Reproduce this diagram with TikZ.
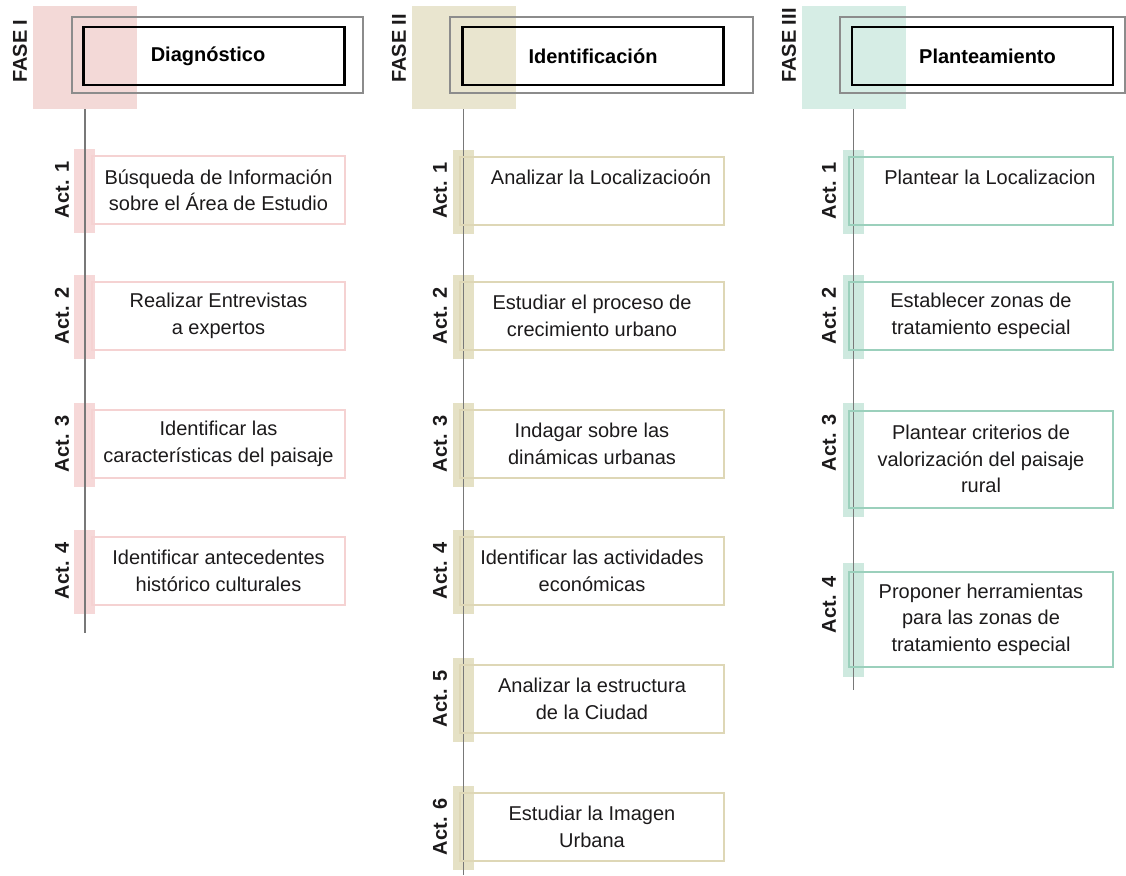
\documentclass[tikz,border=0pt]{standalone}
\usepackage{fontspec}
\setmainfont{Liberation Sans}
\begin{document}
\begin{tikzpicture}[x=1pt, y=-1pt,
	every node/.style={font=\fontsize{20}{26.5}\selectfont, text={rgb,255:red,28;green,26;blue,27}},
	fasesq/.style={minimum width=104, minimum height=103, inner sep=0},
	pinksq/.style={fasesq, fill={rgb,255:red,243;green,217;blue,215}},
	beigesq/.style={fasesq, fill={rgb,255:red,233;green,229;blue,207}},
	tealsq/.style={fasesq, fill={rgb,255:red,214;green,237;blue,229}},
	outerframe/.style={draw={rgb,255:red,140;green,140;blue,140}, line width=1.5pt, minimum height=76, inner sep=0},
	titlebox/.style={draw=black, line width=2.6pt, minimum width=261, minimum height=58, inner sep=0, font=\fontsize{20}{26}\selectfont\bfseries, text=black},
	faselabel/.style={rotate=90, anchor=west, inner sep=0, font=\fontsize{20}{26}\selectfont\bfseries},
	actlabel/.style={rotate=90, inner sep=0, font=\fontsize{20}{26}\selectfont\bfseries},
	actstrip/.style={minimum width=21, minimum height=84, inner sep=0},
	pinkstrip/.style={actstrip, fill={rgb,255:red,246;green,216;blue,216}},
	beigestrip/.style={actstrip, fill={rgb,255:red,229;green,225;blue,197}},
	tealstrip/.style={actstrip, fill={rgb,255:red,206;green,233;blue,223}},
	actbox/.style={line width=2pt, minimum height=68, align=center, inner sep=0},
	pinkbox/.style={actbox, minimum width=253, draw={rgb,255:red,245;green,210;blue,210}},
	beigebox/.style={actbox, minimum width=264, draw={rgb,255:red,222;green,215;blue,182}},
	tealbox/.style={actbox, minimum width=264, draw={rgb,255:red,155;green,208;blue,188}},
	axis/.style={draw={rgb,255:red,120;green,120;blue,120}, line width=1.5pt}
]
	\useasboundingbox (0,0) rectangle (1126,875);

	\node[pinksq] (sqI) at (85,57.5) {};
	\node[outerframe, minimum width=291] (frameI) at (217.5,55) {};
	\node[titlebox] (titleI) at (214,56) {\hspace*{-12pt}Diagnóstico};
	\node[faselabel] (faseI) at (20,83) {FASE I};

	\node[beigesq] (sqII) at (463.5,57.5) {};
	\node[outerframe, minimum width=303] (frameII) at (601.5,55) {};
	\node[titlebox] (titleII) at (593,56) {Identificación};
	\node[faselabel] (faseII) at (399,83) {FASE II};

	\node[tealsq] (sqIII) at (853.5,57.5) {};
	\node[outerframe, minimum width=285] (frameIII) at (982.5,55) {};
	\node[titlebox] (titleIII) at (982.5,56) {\hspace*{10pt}Planteamiento};
	\node[faselabel] (faseIII) at (789,83) {FASE III};

	\node[pinkstrip] (stIa) at (84.5,191) {};
	\node[pinkstrip] (stIb) at (84.5,317) {};
	\node[pinkstrip] (stIc) at (84.5,445) {};
	\node[pinkstrip] (stId) at (84.5,572) {};
	\coordinate (endI) at (85,633);
	\draw[axis] (sqI.south) -- (endI);
	\node[pinkbox] (boxIa) at (218.5,190) {Búsqueda de Información\\sobre el Área de Estudio};
	\node[pinkbox] (boxIb) at (218.5,316) {Realizar Entrevistas\\a expertos};
	\node[pinkbox] (boxIc) at (218.5,444) {Identificar las\\características del paisaje};
	\node[pinkbox] (boxId) at (218.5,571) {Identificar antecedentes\\histórico culturales};
	\node[actlabel] (actIa) at (62,190) {Act. 1};
	\node[actlabel] (actIb) at (62,316) {Act. 2};
	\node[actlabel] (actIc) at (62,444) {Act. 3};
	\node[actlabel] (actId) at (62,571) {Act. 4};

	\node[beigestrip] (stIIa) at (463.5,191.5) {};
	\node[beigestrip] (stIIb) at (463.5,317) {};
	\node[beigestrip] (stIIc) at (463.5,445) {};
	\node[beigestrip] (stIId) at (463.5,572) {};
	\node[beigestrip] (stIIe) at (463.5,700) {};
	\node[beigestrip] (stIIf) at (463.5,828) {};
	\coordinate (endII) at (463.5,875);
	\draw[axis] (sqII.south) -- (endII);
	\node[beigebox] (boxIIa) at (592,190.5) {\hspace*{18pt}Analizar la Localizacioón\\\mbox{}};
	\node[beigebox] (boxIIb) at (592,316) {Estudiar el proceso de\\crecimiento urbano};
	\node[beigebox] (boxIIc) at (592,444) {Indagar sobre las\\dinámicas urbanas};
	\node[beigebox] (boxIId) at (592,571) {Identificar las actividades\\económicas};
	\node[beigebox] (boxIIe) at (592,699) {Analizar la estructura\\de la Ciudad};
	\node[beigebox] (boxIIf) at (592,827) {Estudiar la Imagen\\Urbana};
	\node[actlabel] (actIIa) at (440,190.5) {Act. 1};
	\node[actlabel] (actIIb) at (440,316) {Act. 2};
	\node[actlabel] (actIIc) at (440,444) {Act. 3};
	\node[actlabel] (actIId) at (440,571) {Act. 4};
	\node[actlabel] (actIIe) at (440,699) {Act. 5};
	\node[actlabel] (actIIf) at (440,827) {Act. 6};

	\node[tealstrip] (stIIIa) at (853,192) {};
	\node[tealstrip] (stIIIb) at (853,317) {};
	\node[tealstrip, minimum height=114] (stIIIc) at (853,460) {};
	\node[tealstrip, minimum height=114] (stIIId) at (853,620) {};
	\coordinate (endIII) at (853.5,690);
	\draw[axis] (sqIII.south) -- (endIII);
	\node[tealbox] (boxIIIa) at (981,191) {\hspace*{18pt}Plantear la Localizacion\\\mbox{}};
	\node[tealbox] (boxIIIb) at (981,316) {Establecer zonas de\\tratamiento especial};
	\node[tealbox, minimum height=97] (boxIIIc) at (981,459) {Plantear criterios de\\valorización del paisaje\\rural};
	\node[tealbox, minimum height=95] (boxIIId) at (981,619.5) {Proponer herramientas\\para las zonas de\\tratamiento especial};
	\node[actlabel] (actIIIa) at (829,191) {Act. 1};
	\node[actlabel] (actIIIb) at (829,316) {Act. 2};
	\node[actlabel] (actIIIc) at (829,443) {Act. 3};
	\node[actlabel] (actIIId) at (829,605) {Act. 4};
\end{tikzpicture}
\end{document}
